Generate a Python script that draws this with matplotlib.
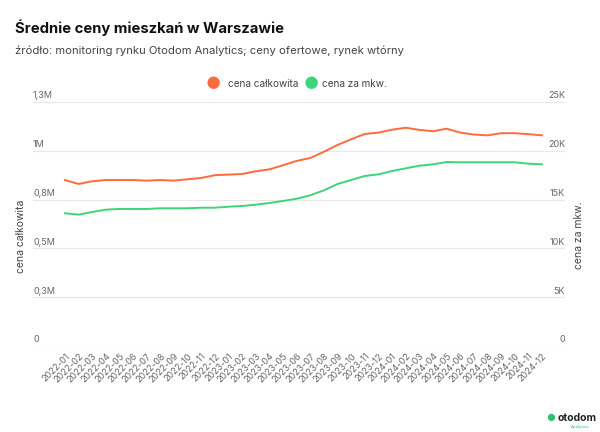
import numpy as np
import matplotlib
matplotlib.use("Agg")
import matplotlib.pyplot as plt
import matplotlib.transforms as mtransforms

plt.rcParams['font.family'] = ['Inter', 'DejaVu Sans']

months = ["2022-01", "2022-02", "2022-03", "2022-04", "2022-05", "2022-06",
          "2022-07", "2022-08", "2022-09", "2022-10", "2022-11", "2022-12",
          "2023-01", "2023-02", "2023-03", "2023-04", "2023-05", "2023-06",
          "2023-07", "2023-08", "2023-09", "2023-10", "2023-11", "2023-12",
          "2024-01", "2024-02", "2024-03", "2024-04", "2024-05", "2024-06",
          "2024-07", "2024-08", "2024-09", "2024-10", "2024-11", "2024-12"]

# cena całkowita (PLN)
total_price = [850000, 830000, 844000, 850000, 850000, 850000,
               847000, 850000, 847000, 854000, 861000, 875000,
               878000, 881000, 895000, 905000, 926000, 948000,
               963000, 995000, 1030000, 1059000, 1086000, 1093000,
               1108000, 1118000, 1107000, 1100000, 1113000, 1093000,
               1083000, 1079000, 1090000, 1090000, 1085000, 1079000]

# cena za mkw. (PLN/m2)
sqm_price = [13600, 13460, 13730, 13970, 14040, 14040,
             14040, 14110, 14110, 14110, 14170, 14170,
             14270, 14340, 14480, 14650, 14860, 15090,
             15440, 15950, 16600, 17010, 17420, 17590,
             17930, 18200, 18470, 18610, 18850, 18820,
             18820, 18820, 18820, 18820, 18680, 18610]

left_ticks = [0, 250000, 500000, 750000, 1000000, 1250000]
left_labels = ["0", "0,3M", "0,5M", "0,8M", "1M", "1,3M"]
right_ticks = [0, 5000, 10000, 15000, 20000, 25000]
right_labels = ["0", "5K", "10K", "15K", "20K", "25K"]

orange = "#FF6B3D"
green = "#3DD47A"
grey = "#666666"

fig = plt.figure(figsize=(6, 4.32), dpi=100)
ax = fig.add_axes([0.055, 0.199, 0.887, 0.565])
ax2 = ax.twinx()

x = np.arange(len(months))
ax.plot(x, total_price, color=orange, lw=1.4, zorder=3)
ax2.plot(x, sqm_price, color=green, lw=1.4, zorder=3)

ax.set_xlim(-2.35, len(months) - 1 + 1.7)
ax.set_ylim(0, 1250000)
ax2.set_ylim(0, 25000)

for a in (ax, ax2):
    for s in a.spines.values():
        s.set_visible(False)
    a.set_yticks([])

for v in left_ticks:
    ax.axhline(v, color="#e8e8e8", lw=0.9, zorder=0)

trans_l = mtransforms.blended_transform_factory(ax.transAxes, ax.transData)
for v, lab in zip(left_ticks, left_labels):
    ax.text(0, v + 8000, lab, transform=trans_l, ha="left", va="bottom",
            fontsize=6.5, color=grey)
trans_r = mtransforms.blended_transform_factory(ax2.transAxes, ax2.transData)
for v, lab in zip(right_ticks, right_labels):
    ax2.text(1, v + 160, lab, transform=trans_r, ha="right", va="bottom",
             fontsize=6.5, color=grey)

ax.set_xticks(x)
ax.set_xticklabels(months, rotation=45, ha="right", rotation_mode="anchor",
                   fontsize=6.5, color=grey)
ax.tick_params(axis="x", length=0, pad=4)

fig.text(0.026, 0.454, "cena całkowita", rotation=90, ha="left", va="center",
         fontsize=7.5, color="#444444")
fig.text(0.957, 0.456, "cena za mkw.", rotation=90, ha="left", va="center",
         fontsize=7.5, color="#444444")

fig.text(0.025, 0.937, "Średnie ceny mieszkań w Warszawie", fontsize=10.7,
         fontweight="bold", color="#111111", va="center")
fig.text(0.025, 0.882,
         "źródło: monitoring rynku Otodom Analytics; ceny ofertowe, rynek wtórny",
         fontsize=8.1, color="#444444", va="center")

# legend
fig.text(0.355, 0.805, "●", fontsize=12, color=orange, ha="center", va="center")
fig.text(0.38, 0.805, "cena całkowita", fontsize=7.2, color="#444444", va="center")
fig.text(0.518, 0.805, "●", fontsize=12, color=green, ha="center", va="center")
fig.text(0.537, 0.805, "cena za mkw.", fontsize=7.2, color="#444444", va="center")

# logo
fig.text(0.918, 0.032, "●", fontsize=7, color="#2fbf6a", ha="center", va="center")
fig.text(0.93, 0.032, "otodom", fontsize=7.5, fontweight="bold", color="#222222",
         va="center")
fig.text(0.982, 0.012, "Analytics", fontsize=3, color="#2fbf6a", ha="right",
         va="center")

fig.savefig("out.png", dpi=100)
